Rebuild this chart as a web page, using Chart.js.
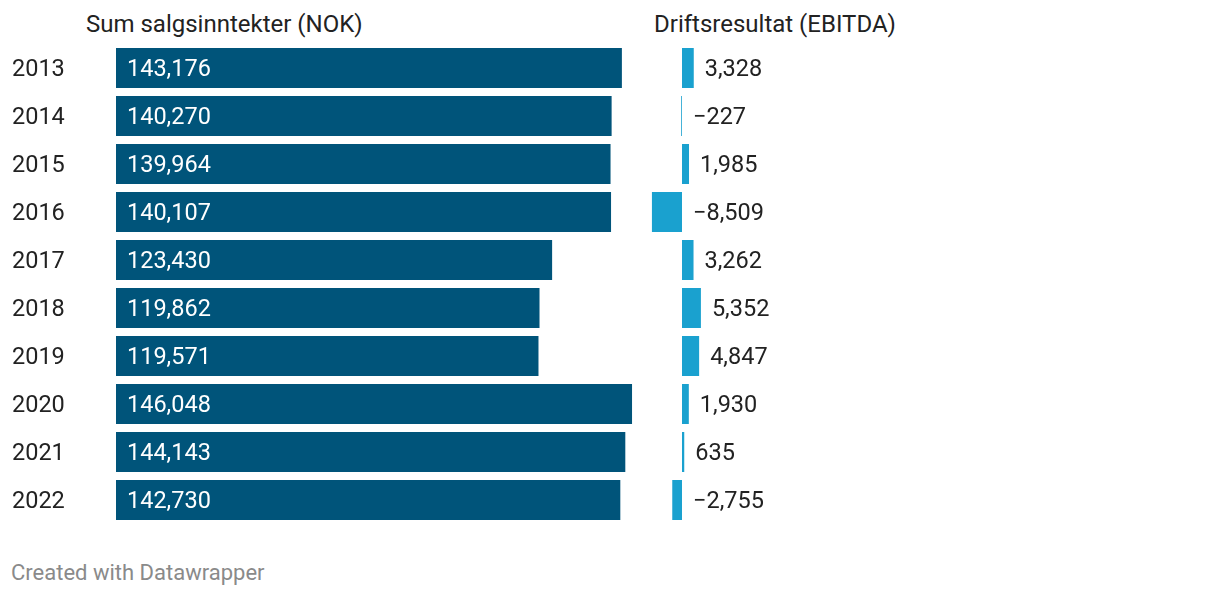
<!DOCTYPE html>
<html>
<head>
<meta charset="utf-8">
<script src="https://cdn.jsdelivr.net/npm/chart.js@4"></script>
<style>
  html, body { margin:0; padding:0; background:#fff; width:1220px; height:596px; overflow:hidden; font-family: Roboto, sans-serif; }
  .abs { position:absolute; }
  .hdr { font-size:24px; line-height:28px; color:#222; white-space:nowrap; }
  #foot { left:11px; top:560px; font-size:22px; line-height:26px; color:#8a8a8a; }
</style>
</head>
<body>
<div class="abs hdr" id="h1" style="left:86px; top:10px;">Sum salgsinntekter (NOK)</div>
<div class="abs hdr" id="h2" style="left:654px; top:10px;">Driftsresultat (EBITDA)</div>
<div class="abs" style="left:0; top:44px; width:646px; height:480px;"><canvas id="c1"></canvas></div>
<div class="abs" style="left:600px; top:44px; width:320px; height:480px;"><canvas id="c2"></canvas></div>
<div class="abs" id="foot">Created with Datawrapper</div>
<script>
const years = ["2013","2014","2015","2016","2017","2018","2019","2020","2021","2022"];
const salesRevenue = [143176,140270,139964,140107,123430,119862,119571,146048,144143,142730];
const ebitda = [3328,-227,1985,-8509,3262,5352,4847,1930,635,-2755];

const fmt = v => (v < 0 ? "\u2212" : "") + Math.abs(v).toLocaleString("en-US");
const FONT = { family: "Roboto", size: 23.5 };

const insideLabels = {
  id: "insideLabels",
  afterDatasetsDraw(chart) {
    const ctx = chart.ctx;
    const meta = chart.getDatasetMeta(0);
    ctx.save();
    ctx.font = "23.5px Roboto";
    ctx.fillStyle = "#ffffff";
    ctx.textBaseline = "middle";
    ctx.textAlign = "left";
    meta.data.forEach((bar, i) => {
      ctx.fillText(fmt(chart.data.datasets[0].data[i]), bar.base + 11, bar.y + 2);
    });
    ctx.restore();
  }
};

const outsideLabels = {
  id: "outsideLabels",
  afterDatasetsDraw(chart) {
    const ctx = chart.ctx;
    const meta = chart.getDatasetMeta(0);
    ctx.save();
    ctx.font = "23.5px Roboto";
    ctx.fillStyle = "#222222";
    ctx.textBaseline = "middle";
    ctx.textAlign = "left";
    meta.data.forEach((bar, i) => {
      const x = Math.max(bar.x, bar.base) + 11;
      ctx.fillText(fmt(chart.data.datasets[0].data[i]), x, bar.y + 2);
    });
    ctx.restore();
  }
};

new Chart(document.getElementById("c1"), {
  type: "bar",
  data: { labels: years, datasets: [{ data: salesRevenue, backgroundColor: "#00547a", categoryPercentage: 1, barPercentage: 40/48 }] },
  options: {
    indexAxis: "y", responsive: true, maintainAspectRatio: false, animation: false,
    layout: { padding: { left: 12, right: 0, top: 0, bottom: 0 } },
    plugins: { legend: { display: false }, tooltip: { enabled: false } },
    scales: {
      x: { display: false, min: 0, max: 150000 },
      y: {
        grid: { display: false, drawTicks: false }, border: { display: false },
        ticks: { crossAlign: "far", color: "#222", font: FONT, padding: 0, labelOffset: 2 },
        afterFit(axis) { axis.width = 104; axis.paddingTop = 0; axis.paddingBottom = 0; }
      }
    }
  },
  plugins: [insideLabels]
});

new Chart(document.getElementById("c2"), {
  type: "bar",
  data: { labels: years, datasets: [{ data: ebitda, backgroundColor: "#1aa1cf", categoryPercentage: 1, barPercentage: 40/48 }] },
  options: {
    indexAxis: "y", responsive: true, maintainAspectRatio: false, animation: false,
    layout: { padding: { left: 46.66, right: 202.66, top: 0, bottom: 0 } },
    plugins: { legend: { display: false }, tooltip: { enabled: false } },
    scales: {
      x: { display: false, min: -10000, max: 10000 },
      y: { display: false }
    }
  },
  plugins: [outsideLabels]
});
</script>
</body>
</html>
